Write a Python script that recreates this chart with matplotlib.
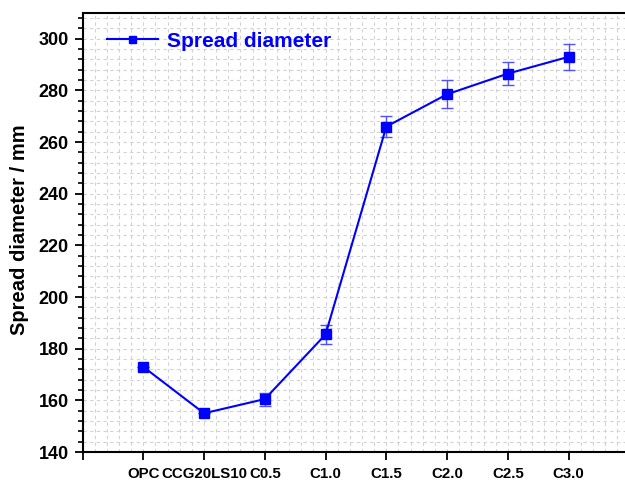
import matplotlib
matplotlib.use("Agg")
import matplotlib.pyplot as plt
from matplotlib.ticker import MultipleLocator, FixedLocator

plt.rcParams['font.family'] = ['Liberation Sans', 'DejaVu Sans']

categories = ["OPC", "CCG20LS10", "C0.5", "C1.0", "C1.5", "C2.0", "C2.5", "C3.0"]
spread = [173, 155, 160.5, 185.5, 266, 278.5, 286.5, 293]
spread_err = [0, 0, 2.5, 3.5, 4, 5.5, 4.5, 5]

fig = plt.figure(figsize=(6.25, 4.82), dpi=100)
ax = fig.add_axes([0.132, 0.0622, 0.875, 0.911])

xs = list(range(1, len(categories) + 1))
ax.errorbar(xs, spread, yerr=spread_err, fmt='none', ecolor='#5050ff',
            elinewidth=1.0, capsize=4, capthick=1.0, zorder=3)
ax.plot(xs, spread, color='#0000ff', lw=1.5, marker='s', markersize=7,
        markerfacecolor='#0000ff', markeredgecolor='#0000ff',
        label='Spread diameter', zorder=4)

ax.set_xlim(0, 9)
ax.set_ylim(140, 310)

ax.xaxis.set_major_locator(FixedLocator(list(range(0, 9))))
ax.set_xticklabels([""] + categories)
ax.xaxis.set_minor_locator(MultipleLocator(0.2))
ax.yaxis.set_major_locator(MultipleLocator(20))
ax.yaxis.set_minor_locator(MultipleLocator(4))

ax.tick_params(axis='x', which='major', direction='out', length=6, width=1.3,
               labelsize=10.8, pad=5)
ax.tick_params(axis='y', which='major', direction='out', length=6, width=1.3,
               labelsize=13, pad=4)
ax.tick_params(axis='y', which='minor', direction='out', length=3.7, width=1.2)
ax.tick_params(axis='x', which='minor', length=0)
for lab in ax.get_xticklabels() + ax.get_yticklabels():
    lab.set_fontweight('bold')

ax.grid(True, which='both', color='#d2d2d2', lw=0.8, ls=(0, (3, 3)), zorder=0)

for s in ax.spines.values():
    s.set_linewidth(1.5)

ax.set_ylabel('Spread diameter / mm', fontsize=14.5, fontweight='bold')
ax.yaxis.set_label_coords(-0.0978, 0.506)

leg = ax.legend(loc='center left', bbox_to_anchor=(0.0445, 0.936), frameon=False,
                borderpad=0, borderaxespad=0,
                handlelength=2.45, handletextpad=0.42, markerscale=0.72,
                prop={'size': 15, 'weight': 'bold'})
for t in leg.get_texts():
    t.set_color('#0000ff')

fig.savefig('out.png', dpi=100)
